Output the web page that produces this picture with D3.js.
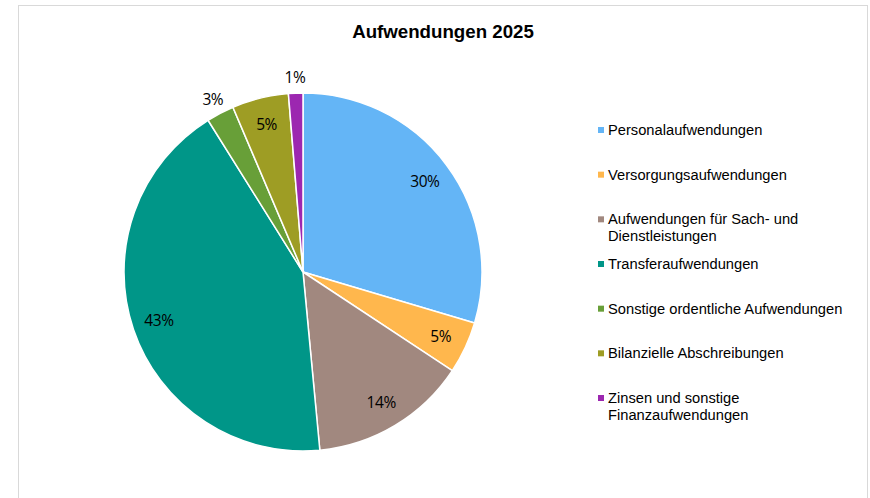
<!DOCTYPE html>
<html>
<head>
<meta charset="utf-8">
<script src="https://cdn.jsdelivr.net/npm/d3@7"></script>
<style>
  body { margin: 0; background: #fff; }
  svg { display: block; }
</style>
</head>
<body>
<svg width="870" height="498"></svg>
<script>
// Categories and their shares (in percent)
const categories = [
  "Personalaufwendungen",
  "Versorgungsaufwendungen",
  "Aufwendungen für Sach- und Dienstleistungen",
  "Transferaufwendungen",
  "Sonstige ordentliche Aufwendungen",
  "Bilanzielle Abschreibungen",
  "Zinsen und sonstige Finanzaufwendungen"
];
const values = [29.6, 4.7, 14.2, 42.6, 2.5, 5.1, 1.3];
const sliceColors = ["#64B5F6", "#FFB74D", "#A1887F", "#009688", "#689F38", "#9E9D24", "#9C27B0"];
const title = "Aufwendungen 2025";

const data = categories.map((c, i) => ({ name: c, value: values[i], color: sliceColors[i] }));
const total = d3.sum(values);

const svg = d3.select("svg");

// Chart frame
svg.append("rect")
  .attr("x", 18.5)
  .attr("y", 5.5)
  .attr("width", 849)
  .attr("height", 520)
  .attr("fill", "#fff")
  .attr("stroke", "#d9d9d9");

// Title
svg.append("text")
  .attr("x", 443)
  .attr("y", 38)
  .attr("text-anchor", "middle")
  .style("font-family", "'Liberation Sans', Arial, sans-serif")
  .style("font-weight", "bold")
  .style("font-size", "18.7px")
  .text(title);

// Pie
const cx = 303, cy = 272, radius = 179;
const g = svg.append("g").attr("transform", `translate(${cx},${cy})`);

const pie = d3.pie().sort(null).value(d => d.value);
const arc = d3.arc().innerRadius(0).outerRadius(radius);
const arcs = pie(data);

g.selectAll("path")
  .data(arcs)
  .join("path")
  .attr("d", arc)
  .attr("fill", d => d.data.color)
  .attr("stroke", "#fff")
  .attr("stroke-width", 1.5);

// Percentage labels: inside for bigger slices, just outside for tiny ones
const inArc = d3.arc().innerRadius(152).outerRadius(152);
const outArc = d3.arc().innerRadius(195).outerRadius(195);

g.selectAll("text.pct")
  .data(arcs)
  .join("text")
  .attr("class", "pct")
  .attr("transform", d => `translate(${(d.data.value < 3 ? outArc : inArc).centroid(d)})`)
  .attr("text-anchor", "middle")
  .attr("dy", "0.36em")
  .style("font-family", "'Open Sans', 'Noto Sans', sans-serif")
  .style("font-size", "15.5px")
  .style("letter-spacing", "-0.4px")
  .attr("fill", "#000")
  .text(d => Math.round(d.data.value / total * 100) + "%");

// Legend
const y = d3.scalePoint()
  .domain(categories)
  .range([130, 398]);

const legend = svg.append("g")
  .selectAll("g")
  .data(data)
  .join("g")
  .attr("transform", d => `translate(598,${y(d.name)})`);

legend.append("rect")
  .attr("x", 0)
  .attr("y", -3)
  .attr("width", 6)
  .attr("height", 6)
  .attr("fill", d => d.color);

legend.append("text")
  .attr("x", 10)
  .attr("y", 0)
  .style("font-family", "'Liberation Sans', Arial, sans-serif")
  .style("font-size", "14.7px")
  .attr("fill", "#000")
  .each(function(d) {
    // simple word wrap
    const text = d3.select(this);
    const words = d.name.split(" ");
    const maxWidth = 250;
    let line = [];
    let tspan = text.append("tspan").attr("x", 10).attr("dy", "0.35em");
    words.forEach(w => {
      line.push(w);
      tspan.text(line.join(" "));
      if (tspan.node().getComputedTextLength() > maxWidth && line.length > 1) {
        line.pop();
        tspan.text(line.join(" "));
        line = [w];
        tspan = text.append("tspan").attr("x", 10).attr("dy", "17px").text(w);
      }
    });
  });
</script>
</body>
</html>
